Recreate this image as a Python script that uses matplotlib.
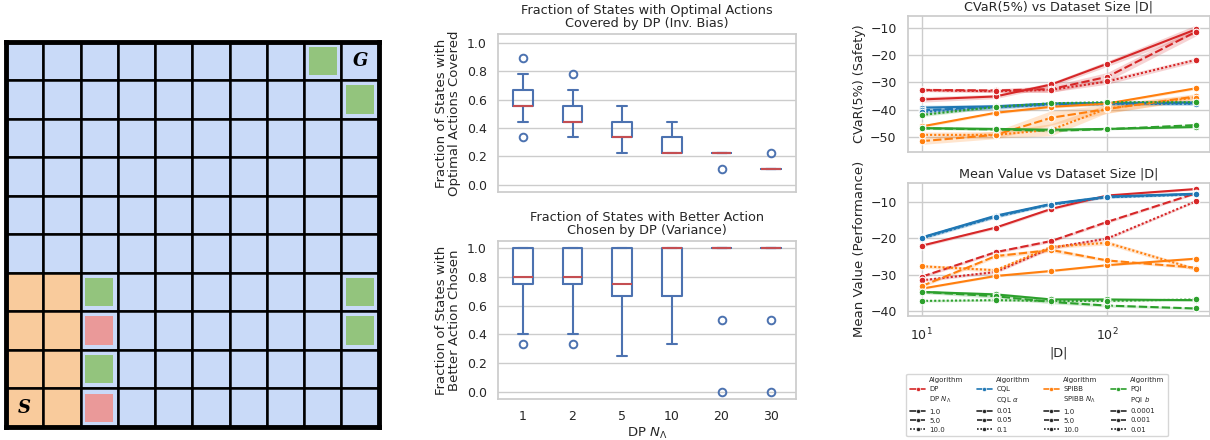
import numpy as np
import matplotlib
matplotlib.use('Agg')
import matplotlib.pyplot as plt
import seaborn as sns
from matplotlib.patches import Rectangle
from matplotlib.lines import Line2D


# ---------------- data ----------------

# grid world layout (row 0 = top, col 0 = left)
n_grid = 10
orange_rows = [6, 7, 8, 9]
orange_cols = [0, 1]
green_cells = [(0, 8), (1, 9), (6, 2), (6, 9), (7, 9), (8, 2)]
red_cells = [(7, 2), (9, 2)]
start_cell = (9, 0)
goal_cell = (0, 9)

# box plots vs DP N_lambda
n_lambda = ['1', '2', '5', '10', '20', '30']

bias_med = [5/9, 4/9, 3/9, 2/9, 2/9, 1/9]
bias_q1 = [5/9, 4/9, 3/9, 2/9, 2/9, 1/9]
bias_q3 = [6/9, 5/9, 4/9, 3/9, 2/9, 1/9]
bias_lo = [4/9, 3/9, 2/9, 2/9, 2/9, 1/9]
bias_hi = [7/9, 6/9, 5/9, 4/9, 2/9, 1/9]
bias_fliers = [[8/9, 3/9], [7/9], [], [], [1/9], [2/9]]

var_med = [0.80, 0.80, 0.75, 1.0, 1.0, 1.0]
var_q1 = [0.75, 0.75, 2/3, 2/3, 1.0, 1.0]
var_q3 = [1.0, 1.0, 1.0, 1.0, 1.0, 1.0]
var_lo = [0.40, 0.40, 0.25, 1/3, 1.0, 1.0]
var_hi = [1.0, 1.0, 1.0, 1.0, 1.0, 1.0]
var_fliers = [[1/3], [1/3], [], [], [0.5, 0.0], [0.5, 0.0]]

# dataset size sweep
sizes = [10, 25, 50, 100, 300]
algos = ['DP', 'CQL', 'SPIBB', 'PQI']
param_names = [r'DP $N_\Lambda$', r'CQL $\alpha$', r'SPIBB $N_\Lambda$', r'PQI $b$']
param_vals = [['1.0', '5.0', '10.0'],
              ['0.01', '0.05', '0.1'],
              ['1.0', '5.0', '10.0'],
              ['0.0001', '0.001', '0.01']]

dp_cvar = [[-36.3, -35.2, -30.8, -23.2, -10.6],
           [-32.8, -33.0, -32.5, -28.0, -11.5],
           [-32.9, -33.3, -32.8, -29.7, -21.8]]
cql_cvar = [[-39.3, -38.8, -37.8, -37.6, -37.4],
            [-40.3, -39.0, -38.0, -37.8, -37.7],
            [-40.9, -39.2, -38.2, -38.0, -37.9]]
spibb_cvar = [[-46.2, -41.2, -39.0, -37.8, -32.2],
              [-51.6, -49.3, -43.0, -39.8, -35.2],
              [-49.3, -49.3, -47.4, -39.6, -35.6]]
pqi_cvar = [[-46.8, -47.1, -47.4, -47.1, -46.4],
            [-46.9, -47.3, -47.8, -47.2, -45.7],
            [-42.0, -39.0, -37.7, -37.3, -37.3]]

dp_cvar_ci = [[1.0, 0.8, 0.8, 1.0, 1.6],
              [0.6, 0.6, 1.2, 1.6, 1.5],
              [0.5, 0.5, 0.8, 1.0, 0.8]]
cql_cvar_ci = [[0.9, 0.7, 0.6, 0.6, 0.6],
               [0.9, 0.7, 0.6, 0.6, 0.6],
               [0.9, 0.7, 0.6, 0.6, 0.6]]
spibb_cvar_ci = [[0.5, 0.5, 0.5, 0.5, 0.5],
                 [1.2, 1.4, 2.6, 1.6, 1.0],
                 [1.0, 1.2, 2.2, 1.6, 1.0]]
pqi_cvar_ci = [[0.4, 0.4, 0.4, 0.3, 0.4],
               [0.4, 0.4, 0.4, 0.3, 0.5],
               [0.6, 0.5, 0.4, 0.4, 0.4]]

dp_mean = [[-22.0, -17.0, -11.8, -8.1, -6.3],
           [-30.6, -23.8, -20.7, -15.4, -7.5],
           [-31.6, -29.3, -22.6, -20.0, -9.7]]
cql_mean = [[-19.7, -13.7, -10.4, -8.4, -7.6],
            [-19.8, -13.9, -10.5, -8.5, -7.7],
            [-20.0, -14.0, -10.6, -8.6, -7.8]]
spibb_mean = [[-33.9, -30.4, -29.0, -27.4, -25.6],
              [-33.2, -24.9, -23.2, -26.1, -28.1],
              [-27.7, -28.8, -22.3, -21.2, -28.5]]
pqi_mean = [[-34.8, -35.5, -36.9, -36.9, -37.1],
            [-34.8, -36.0, -37.6, -38.6, -39.4],
            [-37.3, -37.1, -37.3, -37.3, -36.9]]

dp_mean_ci = [[0.4, 0.4, 0.4, 0.3, 0.3],
              [0.4, 0.4, 0.4, 0.4, 0.3],
              [0.4, 0.4, 0.4, 0.4, 0.3]]
cql_mean_ci = [[0.4, 0.4, 0.3, 0.3, 0.3],
               [0.4, 0.4, 0.3, 0.3, 0.3],
               [0.4, 0.4, 0.3, 0.3, 0.3]]
spibb_mean_ci = [[0.3, 0.3, 0.3, 0.3, 0.3],
                 [0.4, 0.5, 0.6, 0.4, 0.4],
                 [0.5, 0.5, 0.5, 0.6, 0.5]]
pqi_mean_ci = [[0.4, 0.5, 0.4, 0.3, 0.3],
               [0.4, 0.6, 0.5, 0.4, 0.3],
               [0.3, 0.3, 0.3, 0.3, 0.3]]


# ---------------- style ----------------

sns.set_theme(style='whitegrid')
plt.rcParams['font.family'] = ['DejaVu Sans']

algo_colors = ['#d62728', '#1f77b4', '#ff7f0e', '#2ca02c']
dash_styles = ['', (4, 1.5), (1, 1)]
box_blue = '#4C72B0'
median_red = '#C44E52'

fig = plt.figure(figsize=(12.1, 4.4), dpi=100)


# ---------------- grid world ----------------

ax_g = fig.add_axes([0.005, 0.0295, 0.308, 0.8755])
for r in range(n_grid):
    for c in range(n_grid):
        col = '#F9CB9C' if (r in orange_rows and c in orange_cols) else '#C9DAF8'
        ax_g.add_patch(Rectangle((c, r), 1, 1, facecolor=col,
                                 edgecolor='black', linewidth=1.8))
inner = 0.74
for cells, col in [(green_cells, '#93C47D'), (red_cells, '#EA9999')]:
    for r, c in cells:
        ax_g.add_patch(Rectangle((c + (1 - inner) / 2, r + (1 - inner) / 2),
                                 inner, inner, facecolor=col, edgecolor='none'))
ax_g.text(start_cell[1] + 0.5, start_cell[0] + 0.5, 'S', ha='center',
          va='center', fontsize=13, fontweight='bold', fontstyle='italic',
          family='DejaVu Serif', color='black')
ax_g.text(goal_cell[1] + 0.5, goal_cell[0] + 0.5, 'G', ha='center',
          va='center', fontsize=13, fontweight='bold', fontstyle='italic',
          family='DejaVu Serif', color='black')
ax_g.set_xlim(0, n_grid)
ax_g.set_ylim(n_grid, 0)
ax_g.set_xticks([])
ax_g.set_yticks([])
ax_g.grid(False)
for s in ax_g.spines.values():
    s.set_color('black')
    s.set_linewidth(3.5)


# ---------------- box plots ----------------

def make_stats(med, q1, q3, lo, hi, fliers):
    stats = []
    for i in range(len(med)):
        stats.append({'med': med[i], 'q1': q1[i], 'q3': q3[i],
                      'whislo': lo[i], 'whishi': hi[i],
                      'fliers': np.array(fliers[i])})
    return stats


def draw_box(ax, stats):
    ax.bxp(stats, positions=range(1, len(stats) + 1), widths=0.4,
           boxprops=dict(color=box_blue, linewidth=1.5),
           whiskerprops=dict(color=box_blue, linewidth=1.5),
           capprops=dict(color=box_blue, linewidth=1.5),
           medianprops=dict(color=median_red, linewidth=1.5),
           flierprops=dict(marker='o', markerfacecolor='none',
                           markeredgecolor=box_blue, markersize=5.5,
                           markeredgewidth=1.4))
    ax.set_xlim(0.5, len(stats) + 0.5)
    ax.grid(axis='x', visible=False)
    ax.set_yticks([0.0, 0.2, 0.4, 0.6, 0.8, 1.0])
    ax.tick_params(labelsize=9, pad=2)


ax_b1 = fig.add_axes([0.4116, 0.5636, 0.2463, 0.359])
draw_box(ax_b1, make_stats(bias_med, bias_q1, bias_q3, bias_lo, bias_hi, bias_fliers))
ax_b1.set_ylim(-0.05, 1.06)
ax_b1.set_xticklabels([])
ax_b1.set_title('Fraction of States with Optimal Actions\nCovered by DP (Inv. Bias)',
                fontsize=9.3, pad=5, linespacing=1.05)
ax_b1.set_ylabel('Fraction of States with\nOptimal Actions Covered', fontsize=9.5,
                 labelpad=4, linespacing=1.0)

ax_b2 = fig.add_axes([0.4116, 0.0932, 0.2463, 0.359])
draw_box(ax_b2, make_stats(var_med, var_q1, var_q3, var_lo, var_hi, var_fliers))
ax_b2.set_ylim(-0.05, 1.05)
ax_b2.set_xticklabels(n_lambda)
ax_b2.set_xlabel(r'DP $N_\Lambda$', fontsize=9.5, labelpad=2)
ax_b2.set_title('Fraction of States with Better Action\nChosen by DP (Variance)',
                fontsize=9.3, pad=5, linespacing=1.05)
ax_b2.set_ylabel('Fraction of States with\nBetter Action Chosen', fontsize=9.5,
                 labelpad=4, linespacing=1.0)


# ---------------- dataset size sweep ----------------

def draw_lines(ax, series, bands):
    for a in range(len(algos)):
        for k in range(3):
            m = np.array(series[a][k])
            e = np.array(bands[a][k])
            ax.fill_between(sizes, m - e, m + e, color=algo_colors[a],
                            alpha=0.2, linewidth=0)
            ax.plot(sizes, m, color=algo_colors[a], dashes=dash_styles[k],
                    linewidth=1.5, marker='o', markersize=4.8,
                    markeredgecolor='white', markeredgewidth=0.8)
    ax.set_xscale('log')
    ax.set_xlim(8.41, 356)
    ax.tick_params(labelsize=9, pad=2)


ax_c = fig.add_axes([0.7502, 0.655, 0.2495, 0.3086])
draw_lines(ax_c, [dp_cvar, cql_cvar, spibb_cvar, pqi_cvar],
           [dp_cvar_ci, cql_cvar_ci, spibb_cvar_ci, pqi_cvar_ci])
ax_c.set_ylim(-55.5, -5.7)
ax_c.set_yticks([-50, -40, -30, -20, -10])
ax_c.tick_params(axis='x', which='both', labelbottom=False)
ax_c.set_title('CVaR(5%) vs Dataset Size |D|', fontsize=9.2, pad=4)
ax_c.set_ylabel('CVaR(5%) (Safety)', fontsize=9.2, labelpad=3)

ax_m = fig.add_axes([0.7502, 0.2825, 0.2495, 0.3023])
draw_lines(ax_m, [dp_mean, cql_mean, spibb_mean, pqi_mean],
           [dp_mean_ci, cql_mean_ci, spibb_mean_ci, pqi_mean_ci])
ax_m.set_ylim(-41.4, -4.55)
ax_m.set_yticks([-40, -30, -20, -10])
ax_m.set_title('Mean Value vs Dataset Size |D|', fontsize=9.2, pad=4)
ax_m.set_ylabel('Mean Value (Performance)', fontsize=9.5, labelpad=3)
ax_m.set_xlabel('|D|', fontsize=9.2, labelpad=2)

# combined legend, one column per algorithm
handles = []
labels = []
for a in range(len(algos)):
    handles.append(Line2D([], [], color='none'))
    labels.append('Algorithm')
    handles.append(Line2D([], [], color=algo_colors[a], linewidth=1.2,
                          marker='o', markersize=3, markeredgecolor='white',
                          markeredgewidth=0.5))
    labels.append(algos[a])
    handles.append(Line2D([], [], color='none'))
    labels.append(param_names[a])
    for k in range(3):
        handles.append(Line2D([], [], color='.15', dashes=dash_styles[k],
                              linewidth=1.2, marker='o', markersize=3,
                              markeredgecolor='white', markeredgewidth=0.5))
        labels.append(param_vals[a][k])

fig.legend(handles, labels, ncol=4, loc='upper left',
           bbox_to_anchor=(0.7463, 0.159), fontsize=5, frameon=True,
           edgecolor='.8', handlelength=2.2, columnspacing=1.9,
           labelspacing=0.45, borderpad=0.5, handletextpad=0.6)

fig.savefig('out.png', dpi=100)
